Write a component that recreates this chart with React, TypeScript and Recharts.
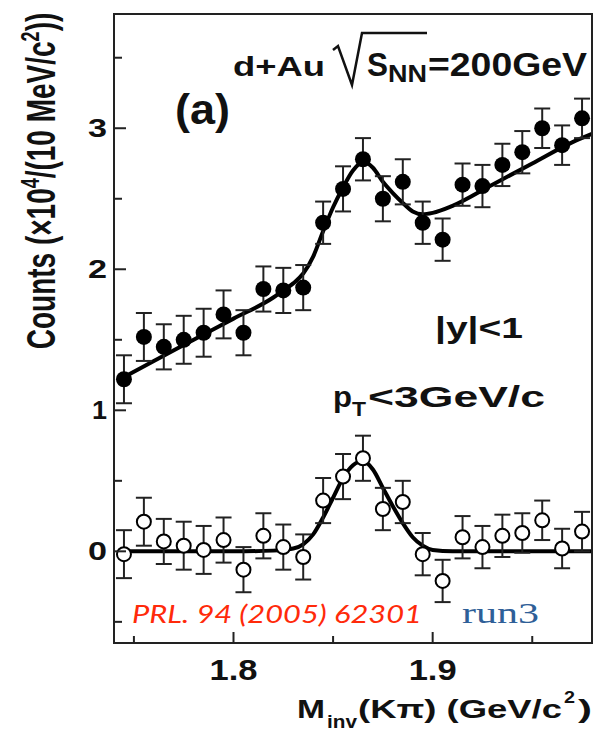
import React from 'react';
import { ComposedChart, XAxis, YAxis, Line, Scatter, ErrorBar, CartesianGrid } from 'recharts';

// bin centres, 10 MeV bins (GeV/c^2)
const massBins = [
  1.745, 1.755, 1.765, 1.775, 1.785, 1.795, 1.805, 1.815, 1.825, 1.835, 1.845, 1.855,
  1.865, 1.875, 1.885, 1.895, 1.905, 1.915, 1.925, 1.935, 1.945, 1.955, 1.965, 1.975,
];

// same-event (filled) and background-subtracted (open) counts, x10^4
const filledCounts = [
  1.22, 1.52, 1.45, 1.50, 1.55, 1.68, 1.55, 1.86, 1.85, 1.87, 2.33, 2.57,
  2.78, 2.50, 2.62, 2.33, 2.21, 2.60, 2.59, 2.74, 2.83, 3.00, 2.88, 3.07,
];
const filledErr = [
  0.17, 0.17, 0.16, 0.17, 0.17, 0.17, 0.16, 0.16, 0.16, 0.16, 0.15, 0.16,
  0.15, 0.16, 0.16, 0.15, 0.15, 0.15, 0.15, 0.15, 0.15, 0.14, 0.14, 0.14,
];
const openCounts = [
  -0.02, 0.21, 0.07, 0.04, 0.01, 0.08, -0.13, 0.11, 0.03, -0.04, 0.36, 0.53,
  0.66, 0.30, 0.35, -0.02, -0.21, 0.10, 0.03, 0.11, 0.13, 0.22, 0.02, 0.14,
];
const openErr = [
  0.17, 0.17, 0.16, 0.17, 0.17, 0.16, 0.16, 0.16, 0.16, 0.16, 0.16, 0.16,
  0.16, 0.15, 0.15, 0.15, 0.15, 0.15, 0.15, 0.15, 0.14, 0.14, 0.14, 0.14,
];

// fit curves
const fitFilledX = [
  1.743, 1.76, 1.78, 1.80, 1.82, 1.825, 1.83, 1.835, 1.84, 1.845, 1.85, 1.855, 1.86,
  1.865, 1.87, 1.875, 1.88, 1.885, 1.89, 1.895, 1.90, 1.91, 1.93, 1.95, 1.97, 1.98,
];
const fitFilledY = [
  1.22, 1.35, 1.50, 1.65, 1.80, 1.85, 1.90, 1.97, 2.09, 2.27, 2.44, 2.58, 2.70,
  2.76, 2.72, 2.62, 2.54, 2.47, 2.41, 2.39, 2.40, 2.45, 2.60, 2.75, 2.90, 2.96,
];
const fitOpenX = [
  1.743, 1.80, 1.82, 1.83, 1.835, 1.84, 1.845, 1.85, 1.855, 1.86, 1.865, 1.87,
  1.875, 1.88, 1.885, 1.89, 1.895, 1.90, 1.91, 1.98,
];
const fitOpenY = [
  0, 0, 0.005, 0.02, 0.05, 0.12, 0.24, 0.38, 0.52, 0.61, 0.64, 0.58,
  0.45, 0.32, 0.20, 0.10, 0.04, 0.01, 0, 0,
];

const xDomain = [1.74, 1.98];
const yDomain = [-0.65, 3.81];
const xMajor = [1.8, 1.9];
const xMinor = [1.75, 1.85, 1.95];
const yMajor = [0, 1, 2, 3];
const yMinor = [-0.5, 0.5, 1.5, 2.5, 3.5];

const filledData = massBins.map((x, i) => ({ x, y: filledCounts[i], err: filledErr[i] }));
const openData = massBins.map((x, i) => ({ x, y: openCounts[i], err: openErr[i] }));
const fitFilled = fitFilledX.map((x, i) => ({ x, y: fitFilledY[i] }));
const fitOpen = fitOpenX.map((x, i) => ({ x, y: fitOpenY[i] }));

const FRAME = '#222';
const INK = '#111';
const SANS = '"Liberation Sans", Arial, sans-serif';

const XTick = (props: any) => {
  const { x, y, payload } = props;
  const major = xMajor.includes(payload.value);
  return (
    <g>
      <line x1={x} x2={x} y1={y} y2={y - (major ? 11 : 7)} stroke={FRAME} strokeWidth={2} />
      {major && (
        <text x={x} y={y + 37} textAnchor="middle" fontSize={30} fontWeight="bold" fill={INK}
          fontFamily={SANS} textLength={48} lengthAdjust="spacingAndGlyphs">
          {payload.value.toFixed(1)}
        </text>
      )}
    </g>
  );
};

const YTick = (props: any) => {
  const { x, y, payload } = props;
  const major = yMajor.includes(payload.value);
  return (
    <g>
      <line x1={x} x2={x + (major ? 12 : 8)} y1={y} y2={y} stroke={FRAME} strokeWidth={2} />
      {major && (
        <text x={x - 7} y={y + 9} textAnchor="end" fontSize={26} fontWeight="bold" fill={INK}
          fontFamily={SANS} textLength={payload.value === 1 ? 15 : 19} lengthAdjust="spacingAndGlyphs">
          {payload.value}
        </text>
      )}
    </g>
  );
};

const FilledDot = (p: any) => <circle cx={p.cx} cy={p.cy} r={8} fill="#000" />;
const OpenDot = (p: any) => (
  <circle cx={p.cx} cy={p.cy} r={7} fill="#fff" stroke="#000" strokeWidth={2} />
);

const T = (p: any) => (
  <text fontFamily={SANS} fontWeight="bold" fill={INK} lengthAdjust="spacingAndGlyphs" {...p} />
);

export default function App() {
  return (
    <div style={{ position: 'absolute', left: 0, top: 0, width: 597, height: 732, background: '#fff' }}>
      <ComposedChart width={597} height={732} margin={{ top: 14, right: 5, bottom: 0, left: 0 }}>
        <CartesianGrid horizontal={false} vertical={false} fill="none" stroke={FRAME} strokeWidth={2} />
        <XAxis type="number" dataKey="x" domain={xDomain} ticks={[...xMinor, ...xMajor].sort()}
          height={89} axisLine={false} tickLine={false} tickSize={0}
          tickMargin={0} tick={<XTick />} allowDataOverflow interval={0} />
        <YAxis type="number" dataKey="y" domain={yDomain} ticks={[...yMinor, ...yMajor].sort((a, b) => a - b)}
          width={114} axisLine={false} tickLine={false} tickSize={0}
          tickMargin={0} tick={<YTick />} allowDataOverflow interval={0} />

        <Line data={fitFilled} dataKey="y" type="monotone" stroke="#000" strokeWidth={4}
          dot={false} activeDot={false} isAnimationActive={false} />
        <Line data={fitOpen} dataKey="y" type="monotone" stroke="#000" strokeWidth={4}
          dot={false} activeDot={false} isAnimationActive={false} />

        <Scatter data={filledData} dataKey="y" shape={<FilledDot />} isAnimationActive={false}>
          <ErrorBar dataKey="err" direction="y" width={8} strokeWidth={2} stroke="#222" />
        </Scatter>
        <Scatter data={openData} dataKey="y" shape={<OpenDot />} isAnimationActive={false}>
          <ErrorBar dataKey="err" direction="y" width={8} strokeWidth={2} stroke="#222" />
        </Scatter>
      </ComposedChart>

      {/* plot frame as a plain bordered box over the plot area */}
      <div style={{
        position: 'absolute', left: 113, top: 13, width: 476, height: 627,
        border: `2px solid ${FRAME}`, pointerEvents: 'none',
      }} />

      <svg width={597} height={732} style={{ position: 'absolute', left: 0, top: 0, pointerEvents: 'none' }}>
        {/* energy label */}
        <T x={233} y={76} fontSize={27} textLength={92}>d+Au</T>
        <path d="M333,50 L338,46 L352,85 L362,33 L427,33" fill="none" stroke={INK} strokeWidth={2.5} />
        <T x={367} y={76} fontSize={34} textLength={21}>S</T>
        <T x={388} y={82} fontSize={23} textLength={39}>NN</T>
        <T x={428} y={76} fontSize={34} textLength={159}>=200GeV</T>

        <T x={175} y={124} fontSize={42} textLength={55}>(a)</T>

        <T x={435} y={338} fontSize={30} textLength={88}>|y|&lt;1</T>
        <T x={333} y={407} fontSize={30} textLength={19}>p</T>
        <T x={352} y={416} fontSize={20} textLength={14}>T</T>
        <T x={368} y={407} fontSize={30} textLength={177}>&lt;3GeV/c</T>

        <T x={132} y={623} fontSize={26} fontWeight="normal" fontStyle="italic" fill="#ff2a0a"
          fontFamily='Lato, "Open Sans", sans-serif' textLength={290}>
          PRL. 94 (2005) 62301
        </T>
        <T x={462} y={623} fontSize={30} fontWeight="normal" fill="#2f5f98"
          fontFamily='"Liberation Serif", "DejaVu Serif", serif' textLength={77}>
          run3
        </T>

        {/* x axis title */}
        <T x={297} y={718} fontSize={25} textLength={28}>M</T>
        <T x={327} y={728} fontSize={18} textLength={30}>inv</T>
        <T x={358} y={718} fontSize={25} textLength={204}>(Kπ) (GeV/c</T>
        <T x={564} y={703} fontSize={17} textLength={11}>2</T>
        <T x={578} y={718} fontSize={25} textLength={14}>)</T>

        {/* y axis title */}
        <text transform="translate(55,181) rotate(-90) scale(1,1.45)" textAnchor="middle" fontSize={28}
          fontFamily={SANS} fontWeight="bold" fill={INK}>
          Counts (×10<tspan dy={-11} fontSize={18}>4</tspan>
          <tspan dy={11}>/(10 MeV/c</tspan>
          <tspan dy={-11} fontSize={18}>2</tspan>
          <tspan dy={11}>))</tspan>
        </text>
      </svg>
    </div>
  );
}
